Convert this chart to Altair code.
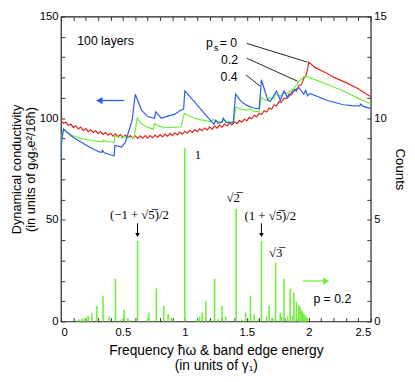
import altair as alt
import pandas as pd

# ---------------- data ----------------
red_x = [0.00, 0.02, 0.04, 0.06, 0.08, 0.10, 0.12, 0.14, 0.16, 0.18,
         0.20, 0.22, 0.24, 0.26, 0.28, 0.30, 0.32, 0.34, 0.36, 0.38,
         0.40, 0.42, 0.44, 0.46, 0.48, 0.50, 0.52, 0.54, 0.56, 0.58,
         0.60, 0.62, 0.64, 0.66, 0.68, 0.70, 0.72, 0.74, 0.76, 0.78,
         0.80, 0.82, 0.84, 0.86, 0.88, 0.90, 0.92, 0.94, 0.96, 0.98,
         1.00, 1.02, 1.04, 1.06, 1.08, 1.10, 1.12, 1.14, 1.16, 1.18,
         1.20, 1.22, 1.24, 1.26, 1.28, 1.30, 1.32, 1.34, 1.36, 1.38,
         1.40, 1.42, 1.44, 1.46, 1.48, 1.50, 1.52, 1.54, 1.56, 1.58,
         1.60, 1.62, 1.64, 1.66, 1.68, 1.70, 1.72, 1.74, 1.76, 1.78,
         1.80, 1.82, 1.84, 1.86, 1.88, 1.90, 1.92, 1.94, 1.96, 1.98,
         1.99, 2.00, 2.05, 2.10, 2.15, 2.20, 2.30, 2.40, 2.50]
red_y = [99.1, 97.4, 98.1, 96.4, 97.1, 95.4, 96.3, 94.7, 95.6, 94.0,
         94.9, 93.4, 94.4, 92.9, 93.9, 92.4, 93.4, 92.0, 93.0, 91.6,
         92.6, 91.2, 92.3, 90.9, 92.0, 90.6, 91.7, 90.4, 91.5, 90.2,
         91.3, 90.1, 91.3, 90.2, 91.4, 90.2, 91.5, 90.4, 91.7, 90.6,
         91.9, 90.8, 92.2, 91.1, 92.5, 91.4, 92.8, 91.8, 93.2, 92.2,
         93.6, 92.6, 94.0, 93.0, 94.4, 93.4, 94.8, 93.8, 95.2, 94.2,
         95.6, 94.6, 96.1, 95.1, 96.6, 95.6, 97.1, 96.2, 97.6, 96.7,
         98.2, 97.3, 98.9, 98.0, 99.6, 98.7, 100.4, 99.7, 101.4, 100.7,
         102.4, 101.8, 103.7, 103.1, 105.0, 104.4, 106.5, 106.1, 108.2, 107.8,
         109.9, 109.6, 111.8, 111.5, 113.7, 113.4, 116.1, 116.4, 119.6, 121.5,
         124.0, 127.6, 125.0, 123.5, 122.0, 120.2, 117.5, 114.5, 110.6]

green_x = [0.0, 0.01, 0.02, 0.05, 0.10, 0.15, 0.23, 0.30, 0.34, 0.345, 0.36,
           0.40, 0.43, 0.435, 0.47, 0.50, 0.505, 0.55, 0.59, 0.605, 0.615,
           0.65, 0.69, 0.745, 0.755, 0.80, 0.84, 0.90, 0.97, 0.98, 0.995,
           1.04, 1.08, 1.13, 1.21, 1.23, 1.25, 1.30, 1.31, 1.37, 1.395,
           1.41, 1.45, 1.50, 1.53, 1.55, 1.60, 1.615, 1.65, 1.67, 1.68,
           1.72, 1.73, 1.77, 1.80, 1.83, 1.85, 1.88, 1.92, 1.96, 1.98,
           2.05, 2.15, 2.28, 2.41, 2.45, 2.50]
green_y = [86.0, 92.0, 94.8, 93.0, 91.3, 90.2, 89.3, 88.6, 88.4, 89.3, 88.6,
           88.3, 88.1, 91.3, 90.5, 90.2, 90.9, 90.4, 90.6, 96.0, 100.0,
           97.3, 95.8, 94.5, 97.3, 96.0, 95.3, 95.5, 95.8, 98.4, 102.4,
           100.8, 100.0, 99.2, 98.4, 99.4, 98.5, 98.3, 99.2, 98.0, 98.3,
           105.5, 104.5, 104.0, 104.5, 103.5, 103.2, 110.3, 109.0, 108.7, 110.0,
           109.5, 111.8, 111.0, 112.5, 112.2, 113.5, 114.5, 118.2, 120.5, 120.5,
           119.0, 116.6, 113.4, 109.5, 108.5, 107.1]

blue_x = [0.0, 0.005, 0.02, 0.10, 0.23, 0.31, 0.33, 0.335, 0.35, 0.40, 0.43,
          0.435, 0.49, 0.52, 0.575, 0.60, 0.65, 0.70, 0.755, 0.765, 0.81,
          0.86, 0.92, 0.97, 0.99, 1.00, 1.08, 1.18, 1.235, 1.25, 1.27,
          1.30, 1.31, 1.33, 1.39, 1.41, 1.45, 1.50, 1.55, 1.60, 1.618,
          1.67, 1.69, 1.74, 1.77, 1.80, 1.83, 1.87, 1.92, 1.96, 1.975,
          1.99, 2.01, 2.15, 2.28, 2.35, 2.41, 2.42, 2.44, 2.50]
blue_y = [80.0, 88.0, 94.5, 90.5, 85.8, 83.4, 83.2, 84.2, 83.0, 82.0, 81.5,
          86.6, 85.8, 88.2, 99.2, 111.8, 104.0, 100.8, 100.0, 103.2, 100.0,
          101.0, 102.0, 104.0, 104.5, 113.4, 107.9, 100.8, 96.9, 99.0, 97.5,
          98.0, 100.0, 98.0, 97.7, 111.8, 108.5, 106.3, 105.0, 104.7, 118.9,
          108.7, 108.3, 113.4, 108.8, 113.4, 110.0, 113.4, 115.0, 111.8, 113.7,
          111.0, 112.2, 108.7, 106.6, 106.2, 106.0, 107.0, 105.8, 104.7]

bar_x = [0.13, 0.15, 0.17, 0.19, 0.20, 0.22, 0.25, 0.29, 0.34, 0.39, 0.44,
         0.48, 0.51, 0.54, 0.56, 0.618, 0.70, 0.71, 0.74, 0.77, 0.83, 0.865,
         0.89, 0.91, 1.00, 1.09, 1.10, 1.12, 1.14, 1.17, 1.20, 1.24, 1.27,
         1.30, 1.33, 1.414, 1.46, 1.49, 1.53, 1.56, 1.59, 1.618, 1.66, 1.68,
         1.71, 1.732, 1.77, 1.78, 1.80, 1.83, 1.85, 1.87, 1.88, 1.90, 1.92,
         1.93, 1.94, 1.95, 1.96, 1.97, 1.98, 1.99]
bar_counts = [0.08, 0.10, 0.12, 0.18, 0.17, 0.27, 0.43, 0.76, 1.24, 0.24, 2.10,
              0.10, 0.59, 0.17, 0.06, 3.97, 0.17, 0.44, 0.05, 1.63, 0.76, 0.35,
              0.17, 0.05, 8.53, 0.05, 0.10, 0.24, 0.44, 1.00, 0.10, 2.10, 0.12,
              0.76, 0.22, 5.54, 0.08, 0.44, 1.25, 0.37, 0.10, 3.97, 0.24, 0.78,
              0.17, 2.90, 0.43, 0.24, 2.10, 0.25, 1.62, 0.27, 1.43, 0.98, 0.81,
              0.70, 0.55, 0.45, 0.38, 0.30, 0.22, 0.15]

x_ticks = [0.0, 0.1, 0.2, 0.3, 0.4, 0.5, 0.6, 0.7, 0.8, 0.9, 1.0, 1.1, 1.2,
           1.3, 1.4, 1.5, 1.6, 1.7, 1.8, 1.9, 2.0, 2.1, 2.2, 2.3, 2.4, 2.5]
y_ticks = [0, 10, 20, 30, 40, 50, 60, 70, 80, 90, 100, 110, 120, 130, 140, 150]
count_ticks = [0, 1, 2, 3, 4, 5, 6, 7, 8, 9, 10, 11, 12, 13, 14, 15]

# leader lines from p_s labels to curves
lead_x1 = [1.50, 1.50, 1.493]
lead_y1 = [136.8, 129.5, 121.3]
lead_x2 = [1.988, 1.909, 1.606]
lead_y2 = [127.6, 118.2, 115.8]

# sans-serif labels
sans_text = ["100 layers", "p", "= 0", "0.2", "0.4", "p = 0.2"]
sans_x = [0.36, 1.171, 1.282, 1.361, 1.357, 2.19]
sans_y = [137.7, 137.0, 137.2, 128.7, 120.1, 10.9]
sans_align = ["center", "left", "left", "center", "center", "center"]

# serif (math) labels
serif_text = ["1", "(\u22121 + \u221a5\u0305)/2", "\u221a2\u0305", "(1 + \u221a5\u0305)/2", "\u221a3\u0305"]
serif_x = [1.105, 0.633, 1.39, 1.69, 1.733]
serif_y = [81.8, 52.2, 60.6, 51.9, 33.7]

# annotation arrows (pointing down) at golden-ratio values
down_x = [0.618, 1.618]
down_top = [48.3, 48.3]
down_bot = [42.5, 42.5]

# legend arrows
blue_arrow_x = [0.33, 0.51]
blue_arrow_y = 108.7
blue_tip_x = 0.31
green_arrow_x = [1.95, 2.12]
green_arrow_y = 19.9
green_tip_x = 2.14

RED = "#e0251e"
GREEN = "#6ef03a"
BLUE = "#2a5cf0"
FONT = "Liberation Sans"
SERIF = "Liberation Serif"

xs = alt.Scale(domain=[0, 2.5], nice=False, zero=False)
ys = alt.Scale(domain=[0, 150], nice=False)
cs = alt.Scale(domain=[0, 15], nice=False)

x_axis = alt.Axis(values=x_ticks, format="~g",
                  labelExpr="round(datum.value*10) % 5 == 0 ? datum.label : ''",
                  tickSize=4, offset=-4, domain=False, grid=False,
                  labelPadding=5, labelFontSize=11.5, labelFont=FONT,
                  labelColor="black", tickColor="#333",
                  title=["Frequency \u0127\u03c9 & band edge energy", "(in units of \u03b3\u2081)"],
                  titleFontSize=14, titleFont=FONT, titleFontWeight="normal",
                  titleColor="black", titlePadding=6, titleLineHeight=16)
y_axis = alt.Axis(values=y_ticks,
                  labelExpr="datum.value % 50 == 0 ? datum.label : ''",
                  tickSize=4, offset=-4, domain=False, grid=False,
                  labelPadding=3, labelFontSize=11.5, labelFont=FONT,
                  labelColor="black", tickColor="#333",
                  title=["Dynamical conductivity", "(in units of g\u1d65g\u209be\u00b2/16\u0127)"],
                  titleFontSize=13, titleFont=FONT, titleFontWeight="normal",
                  titleColor="black", titlePadding=2, titleLineHeight=14)


def X(field):
    return alt.X(field, scale=xs, axis=x_axis)


def Y(field):
    return alt.Y(field, scale=ys, axis=y_axis)


def line_layer(xv, yv, color):
    df = pd.DataFrame({"x": xv, "y": yv})
    return alt.Chart(df).mark_line(color=color, strokeWidth=1.2, clip=True).encode(
        x=X("x:Q"), y=Y("y:Q"))


red = line_layer(red_x, red_y, RED)
green = line_layer(green_x, green_y, GREEN)
blue = line_layer(blue_x, blue_y, BLUE)

lead_df = pd.DataFrame({"x": lead_x1, "y": lead_y1, "x2": lead_x2, "y2": lead_y2})
leaders = alt.Chart(lead_df).mark_rule(color="#222", strokeWidth=1).encode(
    x=X("x:Q"), y=Y("y:Q"), x2="x2:Q", y2="y2:Q")

sans_layers = []
for t, xv, yv, al in zip(sans_text, sans_x, sans_y, sans_align):
    sans_layers.append(
        alt.Chart(pd.DataFrame({"x": [xv], "y": [yv], "t": [t]})).mark_text(
            font=FONT, fontSize=12.5, align=al, baseline="middle", color="black").encode(
            x=X("x:Q"), y=Y("y:Q"), text="t:N"))
sub_s = alt.Chart(pd.DataFrame({"x": [1.236], "y": [134.6], "t": ["s"]})).mark_text(
    font=FONT, fontSize=9, align="left", baseline="middle", color="black").encode(
    x=X("x:Q"), y=Y("y:Q"), text="t:N")

serif_df = pd.DataFrame({"x": serif_x, "y": serif_y, "t": serif_text})
serif = alt.Chart(serif_df).mark_text(font=SERIF, fontSize=13, align="center",
                                      baseline="middle", color="black").encode(
    x=X("x:Q"), y=Y("y:Q"), text="t:N")

down_df = pd.DataFrame({"x": down_x, "y": down_top, "y2": down_bot})
down_rules = alt.Chart(down_df).mark_rule(color="black", strokeWidth=1).encode(
    x=X("x:Q"), y=Y("y:Q"), y2="y2:Q")
down_heads = alt.Chart(down_df).mark_point(shape="triangle-down", filled=True, size=22,
                                           color="black", opacity=1).encode(
    x=X("x:Q"), y=Y("y2:Q"))

ba_df = pd.DataFrame({"x": [blue_arrow_x[0]], "x2": [blue_arrow_x[1]], "y": [blue_arrow_y]})
blue_rule = alt.Chart(ba_df).mark_rule(color=BLUE, strokeWidth=1.3).encode(
    x=X("x:Q"), x2="x2:Q", y=Y("y:Q"))
blue_head = alt.Chart(pd.DataFrame({"x": [blue_tip_x], "y": [blue_arrow_y]})).mark_point(
    shape="triangle-left", filled=True, size=55, color=BLUE, opacity=1).encode(
    x=X("x:Q"), y=Y("y:Q"))

ga_df = pd.DataFrame({"x": [green_arrow_x[0]], "x2": [green_arrow_x[1]], "y": [green_arrow_y]})
green_rule = alt.Chart(ga_df).mark_rule(color=GREEN, strokeWidth=1.3).encode(
    x=X("x:Q"), x2="x2:Q", y=Y("y:Q"))
green_head = alt.Chart(pd.DataFrame({"x": [green_tip_x], "y": [green_arrow_y]})).mark_point(
    shape="triangle-right", filled=True, size=55, color=GREEN, opacity=1).encode(
    x=X("x:Q"), y=Y("y:Q"))

main = alt.layer(red, green, blue, leaders, *sans_layers, sub_s, serif,
                 down_rules, down_heads, blue_rule, blue_head, green_rule, green_head)

bar_df = pd.DataFrame({"x": bar_x, "c": bar_counts})
bars = alt.Chart(bar_df).mark_rule(color=GREEN, strokeWidth=1.6).encode(
    x=alt.X("x:Q", scale=xs,
            axis=alt.Axis(orient="top", values=x_ticks, labels=False, title=None,
                          tickSize=4, offset=-4, domain=False, grid=False, tickColor="#333")),
    y=alt.Y("c:Q", scale=cs,
            axis=alt.Axis(orient="right", values=count_ticks,
                          labelExpr="datum.value % 5 == 0 ? datum.label : ''",
                          tickSize=4, offset=-4, domain=False, grid=False,
                          labelPadding=3, labelFontSize=11.5, labelFont=FONT,
                          labelColor="black", tickColor="#333",
                          title="Counts", titleAngle=90, titleFontSize=13.5, titleFont=FONT,
                          titleFontWeight="normal", titleColor="black", titlePadding=6)),
    y2=alt.datum(0),
)

chart = alt.layer(bars, main).resolve_scale(x="independent", y="independent").properties(
    width=316, height=311,
    autosize=alt.AutoSizeParams(type="none"),
    padding={"left": 54, "right": 37, "top": 5, "bottom": 58},
).configure_view(stroke="#222", strokeWidth=1.2)

chart.save("out.html", embed_options={"renderer": "svg", "actions": False})
